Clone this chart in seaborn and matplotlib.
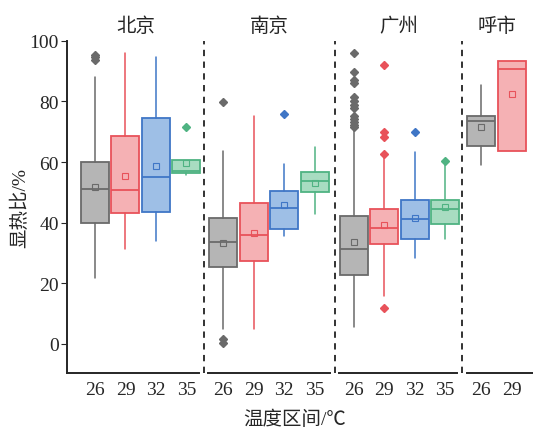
import matplotlib.pyplot as plt
import seaborn as sns

sns.set_style('ticks')
plt.rcParams['font.family'] = ['Liberation Serif', 'Noto Sans CJK SC']

cities = ['北京', '南京', '广州', '呼市']
temps = [['26', '29', '32', '35'], ['26', '29', '32', '35'],
         ['26', '29', '32', '35'], ['26', '29']]

# box statistics, one list per city
q1 = [[39.8, 43.2, 43.6, 56.3], [25.5, 27.5, 37.8, 50.1],
      [22.9, 32.9, 34.5, 39.5], [65.2, 63.6]]
med = [[51.1, 50.7, 55.0, 57.2], [33.5, 36.0, 44.7, 53.7],
       [31.2, 38.3, 41.1, 44.6], [73.4, 90.6]]
q3 = [[60.0, 68.6, 74.6, 60.7], [41.5, 46.6, 50.3, 56.6],
      [42.2, 44.6, 47.5, 47.5], [75.1, 93.3]]
lo = [[21.6, 31.2, 34.1, 55.8], [4.9, 4.9, 35.6, 42.8],
      [5.5, 15.9, 28.3, 34.5], [58.9, 63.6]]
hi = [[88.0, 95.9, 94.8, 60.7], [63.8, 75.1, 59.5, 65.1],
      [70.7, 62.3, 63.3, 60.0], [85.3, 93.3]]
means = [[51.9, 55.4, 58.6, 59.7], [33.3, 36.6, 45.9, 53.2],
         [33.5, 39.3, 41.6, 45.3], [71.5, 82.5]]
fliers = [
    [[93.8, 94.5, 95.2], [], [], [71.5]],
    [[79.8, 1.6, 0.4], [], [76.0], []],
    [[95.9, 89.6, 86.9, 86.1, 81.3, 80.1, 78.9, 77.9, 75.3, 74.3,
      73.3, 72.3, 71.5], [91.9, 69.9, 68.1, 62.8, 11.9], [69.9], [60.5]],
    [[], []],
]

face = ['#b5b5b5', '#f5b1b4', '#9ebfe6', '#a8dcc1']
edge = ['#6a6a6a', '#e8525a', '#3f76c6', '#4fb382']

xlims = [(-0.92, 3.57), (-0.64, 3.66), (-0.62, 3.56), (-0.63, 1.70)]
ratios = [b - a for a, b in xlims]

fig, axes = plt.subplots(1, 4, figsize=(5.33, 4.35), dpi=100, sharey=True,
                         gridspec_kw=dict(width_ratios=ratios, wspace=0,
                                          left=0.1257, right=1.0,
                                          bottom=0.140, top=0.904))

for i, ax in enumerate(axes):
    n = len(temps[i])
    stats = [dict(q1=q1[i][j], med=med[i][j], q3=q3[i][j], whislo=lo[i][j],
                  whishi=hi[i][j], mean=means[i][j], fliers=fliers[i][j])
             for j in range(n)]
    bp = ax.bxp(stats, positions=list(range(n)), widths=0.92, patch_artist=True,
                showmeans=True, showcaps=False)
    for j in range(n):
        c = edge[j]
        bp['boxes'][j].set(facecolor=face[j], edgecolor=c, linewidth=1.3)
        bp['medians'][j].set(color=c, linewidth=1.3)
        for w in bp['whiskers'][2 * j:2 * j + 2]:
            w.set(color=c, linewidth=1.1)
        bp['fliers'][j].set(marker='D', markersize=4, markerfacecolor=c,
                            markeredgecolor=c)
        bp['means'][j].set(marker='s', markersize=4.5, markerfacecolor='none',
                           markeredgecolor=c, markeredgewidth=0.8)
    ax.set_xlim(*xlims[i])
    ax.set_ylim(-9.6, 100)
    ax.set_xticks(range(n))
    ax.set_xticklabels(temps[i], fontsize=14)
    ax.tick_params(axis='x', length=0, pad=6)
    ax.set_title(cities[i], fontsize=14, pad=7)
    sns.despine(ax=ax, left=(i > 0))
    lb = xlims[i][0] + (0.15 if i > 0 else 0)
    rb = xlims[i][1] - (0.15 if i < 3 else 0)
    ax.spines['bottom'].set_bounds(lb, rb)
    ax.spines['bottom'].set_linewidth(1.4)
    if i > 0:
        ax.tick_params(axis='y', left=False)
        ax.axvline(xlims[i][0], color='#222222', linewidth=1.3,
                   linestyle=(0, (3.5, 3)), clip_on=False)

axes[0].spines['left'].set_linewidth(1.4)
axes[0].set_yticks([0, 20, 40, 60, 80, 100])
axes[0].tick_params(axis='y', labelsize=14, length=4, pad=2)
axes[0].set_ylabel('显热比/%', fontsize=14, labelpad=0)
fig.text(0.553, 0.035, '温度区间/℃', ha='center', va='center', fontsize=14)

fig.savefig('out.png', dpi=100)
